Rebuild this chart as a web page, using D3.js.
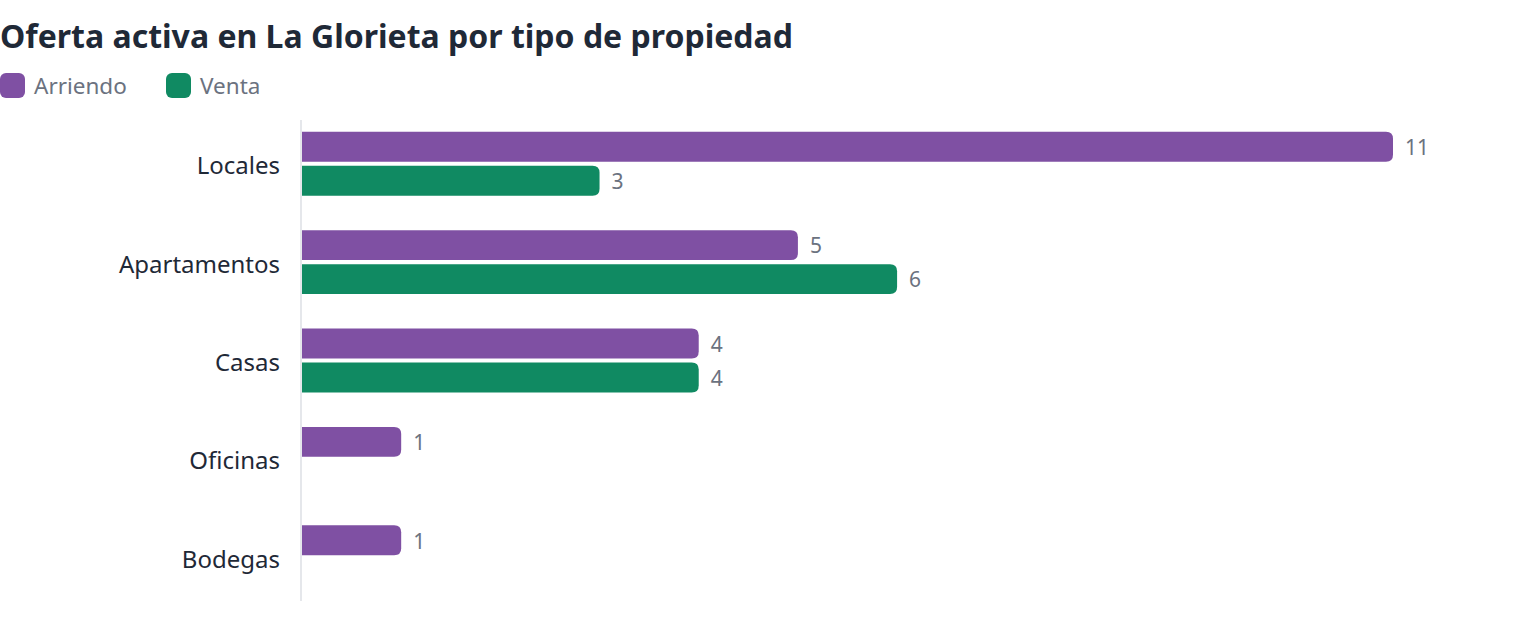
<!DOCTYPE html>
<html>
<head>
<meta charset="utf-8">
<script src="https://cdn.jsdelivr.net/npm/d3@7"></script>
<style>
  body { margin: 0; background: #fff; font-family: "Noto Sans", "Open Sans", sans-serif; }
</style>
</head>
<body>
<svg id="chart"></svg>
<script>
// data
const categories = ["Locales", "Apartamentos", "Casas", "Oficinas", "Bodegas"]
const seriesNames = ["Arriendo", "Venta"]
const arriendo = [11, 5, 4, 1, 1]
const venta = [3, 6, 4, 0, 0]
const colors = ["#7F50A3", "#108A62"]

const width = 1520
const height = 642
const margins = {left: 302, right: 127, top: 117, bottom: 38}

const svg = d3.select("#chart").attr("width", width).attr("height", height)

// title
svg.append("text")
    .text("Oferta activa en La Glorieta por tipo de propiedad")
    .attr("x", 0).attr("y", 48)
    .attr("font-size", 32).attr("font-weight", "bold")
    .attr("fill", "#1f2937")

// legend
let legend = svg.append("g")
let legendX = [0, 166]
seriesNames.forEach((name, i) => {
    let g = legend.append("g").attr("transform", `translate(${legendX[i]}, 73)`)
    g.append("rect").attr("width", 25).attr("height", 25).attr("rx", 6).attr("fill", colors[i])
    g.append("text").text(name).attr("x", 34).attr("y", 20.5)
        .attr("font-size", 22.5).attr("fill", "#6b7280")
})

const data = categories.map((c, i) => ({category: c, values: [arriendo[i], venta[i]]}))

const scaleX = d3.scaleLinear().domain([0, 11]).range([margins.left, width - margins.right])
const scaleY = d3.scaleBand().domain(categories)
    .range([margins.top, height - margins.bottom])
    .paddingInner(0.35).paddingOuter(0.15)
const scaleInner = d3.scaleBand().domain(seriesNames).range([0, scaleY.bandwidth()]).paddingInner(0.12)

// axis line
svg.append("line")
    .attr("x1", margins.left - 1).attr("x2", margins.left - 1)
    .attr("y1", 120).attr("y2", 601)
    .attr("stroke", "#e5e7eb").attr("stroke-width", 2)

// category labels
svg.append("g").selectAll("text")
    .data(categories)
    .join("text")
    .text(d => d)
    .attr("x", 280)
    .attr("y", d => scaleY(d) + scaleY.bandwidth() / 2 + 2)
    .attr("dy", "0.35em")
    .attr("text-anchor", "end")
    .attr("font-size", 24)
    .attr("fill", "#1f2937")

// bar with rounded right end
function barPath(x0, x1, y, h, r) {
    if (x1 - x0 < r) r = Math.max(0, x1 - x0)
    return `M${x0},${y}H${x1 - r}Q${x1},${y} ${x1},${y + r}V${y + h - r}Q${x1},${y + h} ${x1 - r},${y + h}H${x0}Z`
}

let groups = svg.append("g").selectAll("g")
    .data(data)
    .join("g")
    .attr("transform", d => `translate(0, ${scaleY(d.category)})`)

seriesNames.forEach((name, i) => {
    let sub = groups.filter(d => d.values[i] > 0)
    sub.append("path")
        .attr("d", d => barPath(scaleX(0), scaleX(d.values[i]), scaleInner(name), scaleInner.bandwidth(), 7))
        .attr("fill", colors[i])
    sub.append("text")
        .text(d => d.values[i])
        .attr("x", d => scaleX(d.values[i]) + 12)
        .attr("y", scaleInner(name) + scaleInner.bandwidth() / 2 + 1)
        .attr("dy", "0.35em")
        .attr("font-size", 21)
        .attr("fill", "#6b7280")
})
</script>
</body>
</html>
